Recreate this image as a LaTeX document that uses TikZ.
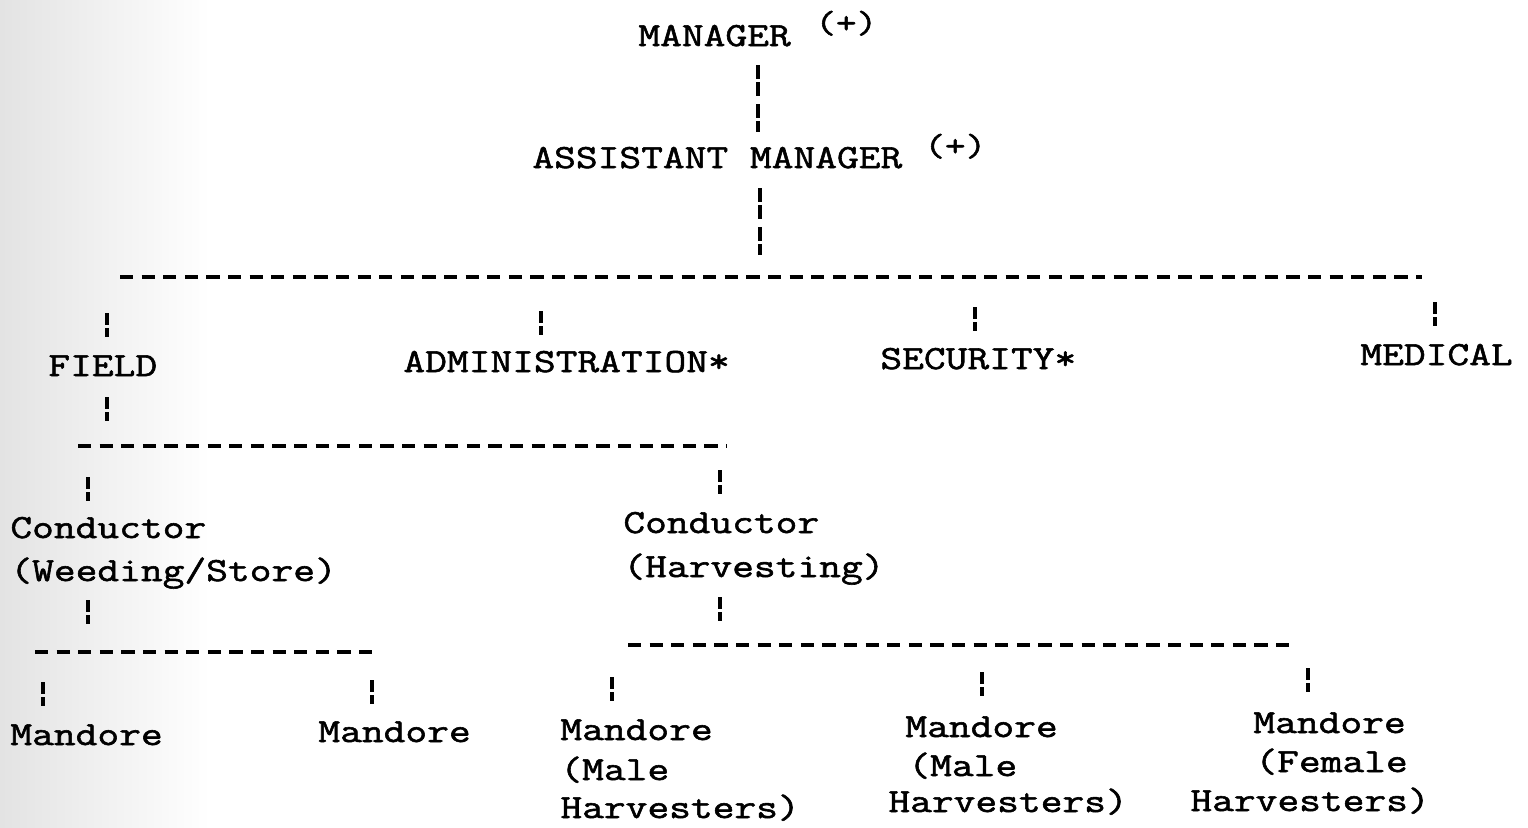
\documentclass[tikz,border=0pt]{standalone}
\usepackage{fontspec}
\newfontfamily\tw[FakeBold=1.7,FakeStretch=1.25]{Latin Modern Mono}
\begin{document}
\begin{tikzpicture}[x=0.5pt,y=-0.5pt,
  lbl/.style={anchor=base west,inner sep=0pt,font=\tw\fontsize{16.9pt}{20pt}\selectfont},
  sup/.style={anchor=base west,inner sep=0pt,font=\tw\fontsize{16pt}{18pt}\selectfont},
  bus/.style={line width=1.9pt,dash pattern=on 6.6pt off 4.2pt},
  vbar/.style={line width=1.9pt,dash pattern=on 6pt off 1.5pt on 4.5pt off 40pt},
  vbartwo/.style={line width=1.9pt,dash pattern=on 7pt off 1.5pt on 7pt off 4pt on 7pt off 1.5pt on 5.5pt off 60pt}]
\useasboundingbox (0,0) rectangle (1528,827);
% photocopy shading along the left margin
\fill[left color=gray!22,right color=white] (0,0) rectangle (210,827);

% top of the hierarchy
\node[lbl] (mgr) at (638,46) {MANAGER};
\node[sup] (mgrp) at (815,33) {(+)};
\node[lbl] (asst) at (532,168) {ASSISTANT MANAGER};
\node[sup] (asstp) at (924,156) {(+)};

% departments
\node[lbl] (field) at (48,376) {FIELD};
\node[lbl] (admin) at (403,372) {ADMINISTRATION*};
\node[lbl] (sec) at (880,369) {SECURITY*};
\node[lbl] (med) at (1360,365) {MEDICAL};

% conductors
\node[lbl] (condw) at (10,538) {Conductor};
\node[lbl] (condwb) at (10,581) {(Weeding/Store)};
\node[lbl] (condh) at (623,533) {Conductor};
\node[lbl] (condhb) at (623,577) {(Harvesting)};

% mandores
\node[lbl] (m1) at (10,745) {Mandore};
\node[lbl] (m2) at (318,742) {Mandore};
\node[lbl] (m3) at (560,740) {Mandore};
\node[lbl] (m3b) at (560,780) {(Male};
\node[lbl] (m3c) at (560,818) {Harvesters)};
\node[lbl] (m4) at (905,737) {Mandore};
\node[lbl] (m4b) at (908,776) {(Male};
\node[lbl] (m4c) at (888,812) {Harvesters)};
\node[lbl] (m5) at (1253,733) {Mandore};
\node[lbl] (m5b) at (1255,772) {(Female};
\node[lbl] (m5c) at (1190,811) {Harvesters)};

% horizontal bus lines
\coordinate (busal) at (120,277);  \coordinate (busar) at (1422,277);
\coordinate (busbl) at (78,446);   \coordinate (busbr) at (727,446);
\coordinate (buscl) at (35,652);   \coordinate (buscr) at (380,652);
\coordinate (busdl) at (628,645);  \coordinate (busdr) at (1295,645);
\draw[bus] (busal) -- (busar);
\draw[bus] (busbl) -- (busbr);
\draw[bus] (buscl) -- (buscr);
\draw[bus] (busdl) -- (busdr);

% vertical ties
\coordinate (vmgr) at (758,65);
\coordinate (vasst) at (760,188);
\draw[vbartwo] (vmgr) -- ++(0,67);
\draw[vbartwo] (vasst) -- ++(0,69);

\coordinate (vfield) at (107,313);
\coordinate (vadmin) at (541,311);
\coordinate (vsec) at (975,307);
\coordinate (vmed) at (1435,302);
\coordinate (vfieldd) at (107,397);
\coordinate (vcondw) at (88,477);
\coordinate (vcondwd) at (88,600);
\coordinate (vcondh) at (720,470);
\coordinate (vcondhd) at (720,597);
\coordinate (vm1) at (43,682);
\coordinate (vm2) at (372,680);
\coordinate (vm3) at (612,677);
\coordinate (vm4) at (982,672);
\coordinate (vm5) at (1308,668);
\foreach \c in {vfield,vadmin,vsec,vmed,vfieldd,vcondw,vcondwd,vcondh,vcondhd,vm1,vm2,vm3,vm4,vm5}
  \draw[vbar] (\c) -- ++(0,25);
\end{tikzpicture}
\end{document}
